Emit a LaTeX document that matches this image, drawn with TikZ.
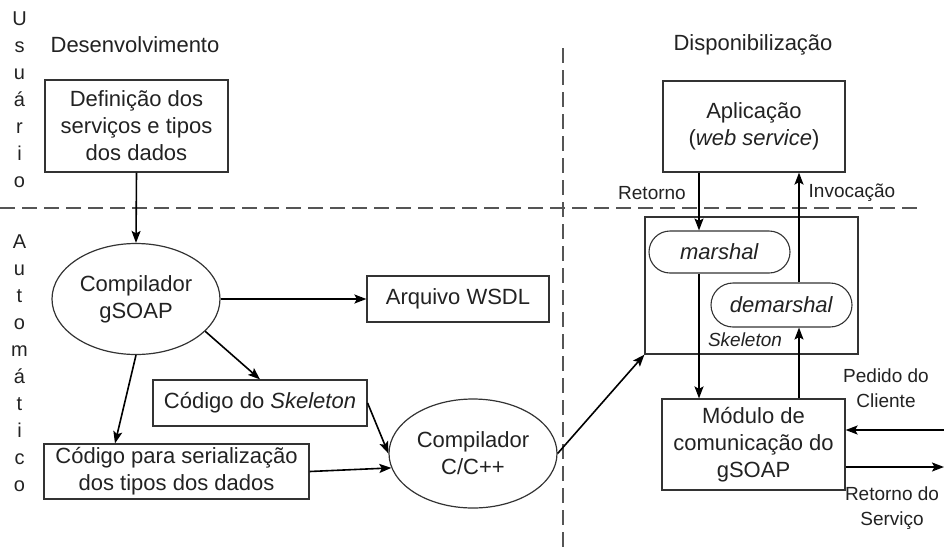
\documentclass[tikz,border=0pt]{standalone}
\usepackage{fontspec}
\setmainfont{Liberation Sans}
\usetikzlibrary{shapes.geometric,shapes.misc,arrows.meta,calc}
\definecolor{ink}{HTML}{222222}
\definecolor{linec}{HTML}{333333}
\definecolor{dashc}{HTML}{555555}
\begin{document}
\begin{tikzpicture}[x=1pt,y=-1pt,
  every node/.style={text=ink, font=\fontsize{22}{27}\selectfont, align=center},
  box/.style={draw=linec, line width=1.2pt, inner sep=0pt},
  oval/.style={ellipse, draw=linec, line width=1.2pt, inner sep=0pt},
  pill/.style={rounded rectangle, rounded rectangle arc length=180, draw=linec, line width=1.1pt, inner sep=0pt},
  arr/.style={draw=black, line width=1.6pt, -{Stealth[length=12pt,width=9pt,inset=2.5pt]}},
  sep/.style={draw=dashc, line width=1.5pt, dash pattern=on 15pt off 7pt},
  lbl/.style={font=\fontsize{19}{25}\selectfont},
  vert/.style={font=\fontsize{20}{27}\selectfont}
]
\useasboundingbox (0,0) rectangle (944,547);

% separators
\coordinate (hl) at (0,208); \coordinate (hr) at (918,208);
\coordinate (vt) at (563,48); \coordinate (vb) at (563,547);
\draw[sep] (hl) -- (hr);
\draw[sep] (vt) -- (vb);

% side labels
\node[vert] (usu) at (19.5,100) {U\\s\\u\\á\\r\\i\\o};
\node[vert] (auto) at (19.5,363.5) {A\\u\\t\\o\\m\\á\\t\\i\\c\\o};
\node (dev) at (135,45) {Desenvolvimento};
\node (disp) at (753,45) {Disponibilização};

% left part
\node[box, minimum width=183pt, minimum height=92pt] (def) at (136.5,126) {Definição dos\\serviços e tipos\\dos dados};
\node[oval, minimum width=168pt, minimum height=111pt] (gsoap) at (136,299) {Compilador\\gSOAP};
\node[box, minimum width=182pt, minimum height=46pt] (wsdl) at (458,299) {Arquivo WSDL};
\node[box, minimum width=214pt, minimum height=46pt] (skc) at (260,403) {Código do \textit{Skeleton}};
\node[box, minimum width=265pt, minimum height=55pt] (ser) at (176.5,471.5) {Código para serialização\\dos tipos dos dados};
\node[oval, minimum width=168pt, minimum height=109pt] (cc) at (473,453.5) {Compilador\\C/C++};

% right part
\node[box, minimum width=182pt, minimum height=91pt] (app) at (754,126.5) {Aplicação\\(\textit{web service})};
\node[box, minimum width=213pt, minimum height=137pt] (skel) at (751.5,285.5) {};
\node[pill, minimum width=141pt, minimum height=42pt] (mar) at (719.5,252) {\textit{marshal}};
\node[pill, minimum width=141pt, minimum height=44pt] (dem) at (781.5,305) {\textit{demarshal}};
\node[lbl] (skl) at (745,340) {\textit{Skeleton}};
\node[box, minimum width=183pt, minimum height=91pt] (mod) at (753.5,444.5) {Módulo de\\comunicação do\\gSOAP};
\node[lbl] (ret) at (652,193) {Retorno};
\node[lbl] (inv) at (852,193) {Invocação};
\node[lbl] (ped) at (886,388) {Pedido do\\Cliente};
\node[lbl] (rets) at (892,508) {Retorno do\\Serviço};

% connectors
\coordinate (xr) at (699,0); \coordinate (xi) at (799,0);
\coordinate (pin) at (944,430); \coordinate (pout) at (944,467);
\draw[arr] (def.south) -- (gsoap.north);
\draw[arr] (gsoap.east) -- (wsdl.west);
\draw[arr] (gsoap.-25) -- (skc.north);
\draw[arr] (gsoap.south) -- ([xshift=-61.5pt]ser.north);
\draw[arr] (skc.east) -- (cc.west);
\draw[arr] (ser.east) -- (cc.190);
\draw[arr] (cc.east) -- (skel.south west);
\draw[arr] (app.south -| xr) -- (mar.north -| xr);
\draw[arr] (mar.south -| xr) -- (mod.north -| xr);
\draw[arr] (mod.north -| xi) -- (dem.south -| xi);
\draw[arr] (dem.north -| xi) -- (app.south -| xi);
\draw[arr] (pin) -- (pin -| mod.east);
\draw[arr] (pout -| mod.east) -- (pout);
\end{tikzpicture}
\end{document}
